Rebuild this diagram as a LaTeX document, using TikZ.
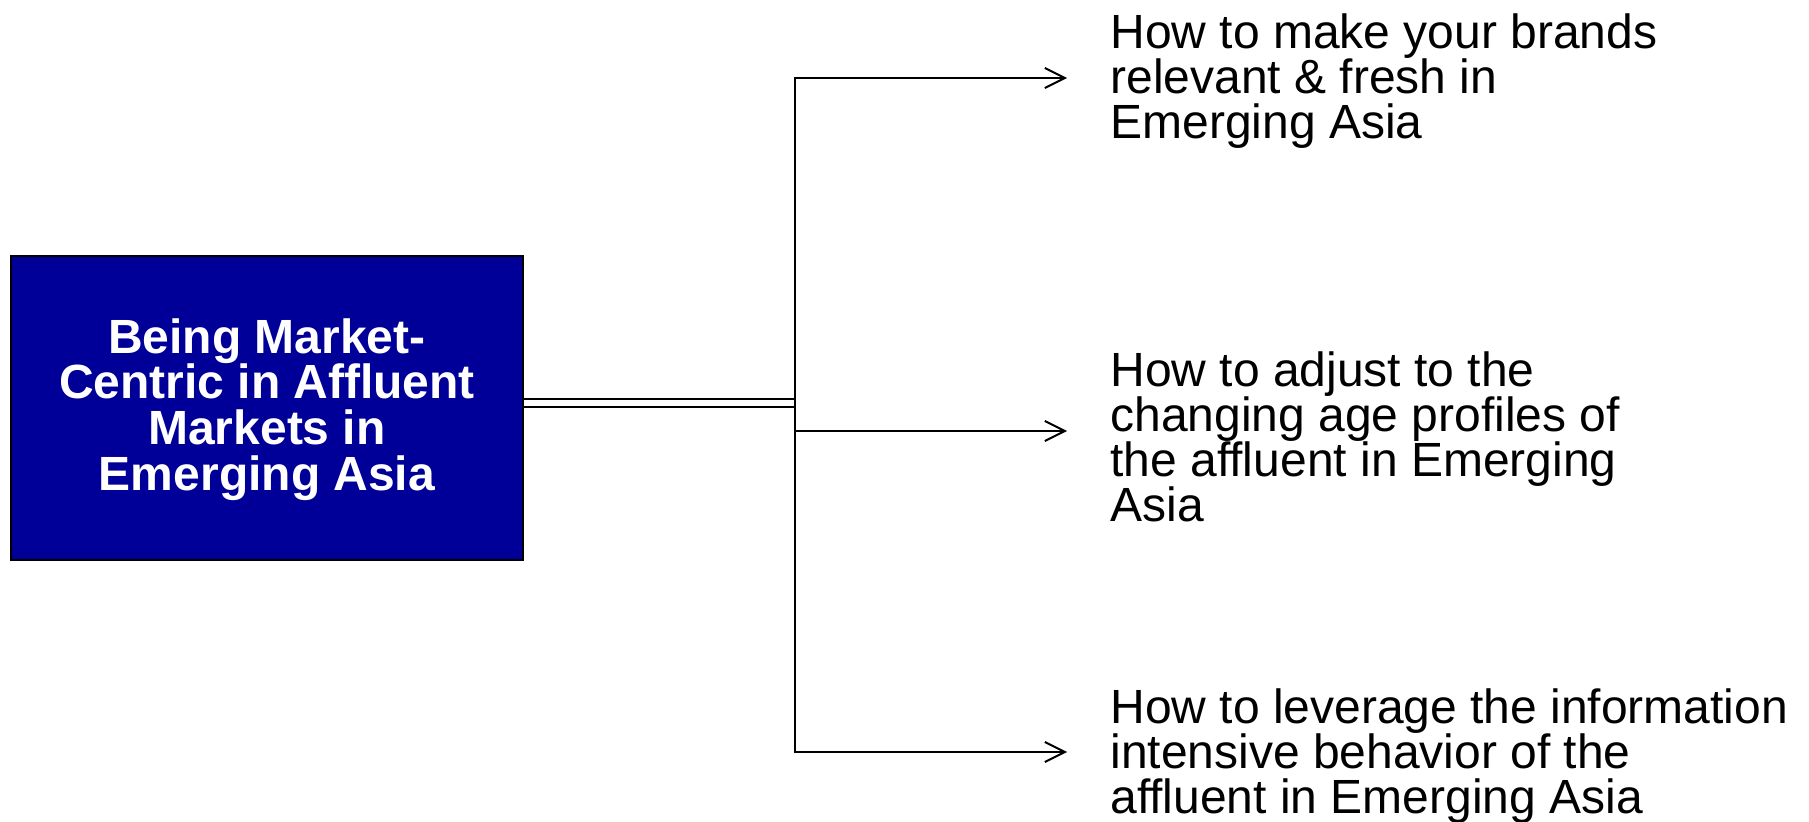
\documentclass[tikz,border=0pt]{standalone}
\usepackage{fontspec}
\setmainfont{Liberation Sans}[Ligatures=NoCommon]
\usepackage{tikz}
\usetikzlibrary{arrows.meta, positioning}
\usepackage{xcolor}
\definecolor{coreblue}{HTML}{000099}

\begin{document}
\begin{tikzpicture}[
    x=0.5pt, y=0.5pt,
    % Node styles
    core/.style={rectangle, draw=black, line width=1.2pt, fill=coreblue, minimum width=256pt, minimum height=152pt, align=center, text=white, font=\fontsize{24}{22.8}\selectfont\bfseries},
    topic/.style={anchor=west, inner sep=0pt, align=left, font=\fontsize{24}{22.5}\selectfont},
    link/.style={line width=1pt, line cap=rect},
    arrow/.style={link, -{Straight Barb[length=10pt, width=10pt]}},
]

% Frame
\useasboundingbox (0, 0) rectangle (1809, 821);

% Central box
\node[core] (core) at (267, 413) {\\[-4pt]Being Market-\\Centric in Affluent\\Markets in\\Emerging Asia};

% Split point on the trunk
\coordinate (split) at (795, 418);

% Arrow tips
\coordinate (tip1) at (1067, 743);
\coordinate (tip2) at (1067, 390);
\coordinate (tip3) at (1067, 69);

% Topics
\node[topic] (brands) at (1110, 740) {How to make your brands\\relevant \& fresh in\\Emerging Asia};
\node[topic] (age) at (1110, 384) {How to adjust to the\\changing age profiles of\\the affluent in Emerging\\Asia};
\node[topic] (info) at (1110, 65) {How to leverage the information\\intensive behavior of the\\affluent in Emerging Asia};

% Box to trunk
\draw[link, double, double distance=3pt, line cap=butt] (split -| core.east) -- (split);

% Trunk and branches
\draw[arrow] (split |- tip3) -- (split |- tip1) -- (tip1);
\draw[arrow] (split |- tip2) -- (tip2);
\draw[arrow] (split |- tip3) -- (tip3);

\end{tikzpicture}
\end{document}
